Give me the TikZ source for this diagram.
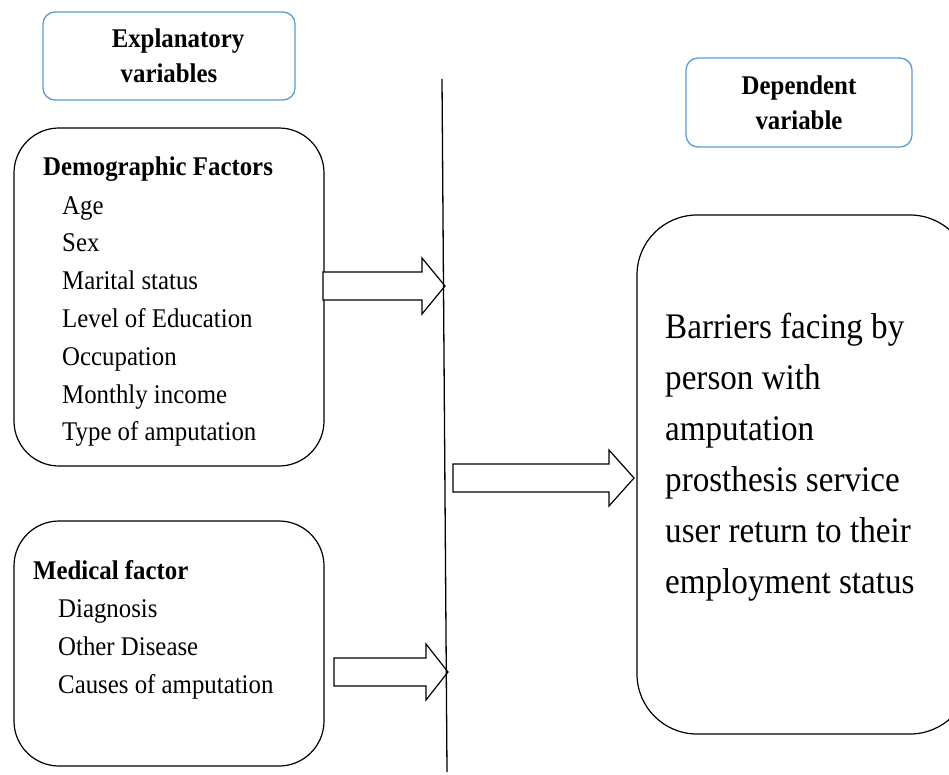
\documentclass[tikz,border=0pt]{standalone}
\usepackage{fontspec}
\setmainfont{Liberation Serif}[FakeStretch=0.92]
\usetikzlibrary{positioning}
\definecolor{headblue}{HTML}{5B9BD5}
\tikzset{
  headbox/.style={rounded corners=12pt, draw=headblue, line width=1.3pt, align=center, inner sep=0pt, font=\bfseries\fontsize{27}{35}\selectfont},
  factorbox/.style={rounded corners=45pt, draw=black, line width=1.2pt, inner sep=0pt},
  itemtext/.style={anchor=base west, inner sep=0pt, font=\fontsize{27}{38}\selectfont},
  bigtext/.style={anchor=base west, inner sep=0pt, font=\fontsize{36}{51}\selectfont},
  blockarrow/.style={draw=black, line width=1.2pt, fill=white, line join=miter}
}

\begin{document}
\begin{tikzpicture}[x=1pt, y=-1pt]
  \clip (0,0) rectangle (949,774);

  % headings
  \node[headbox, minimum width=252pt, minimum height=88pt] (explan) at (169,56) {\hspace*{18pt}Explanatory\\variables};
  \node[headbox, minimum width=226pt, minimum height=89pt] (depend) at (799,102.5) {Dependent\\variable};

  % explanatory factors
  \node[factorbox, minimum width=310pt, minimum height=338pt] (demo) at (169,297) {};
  \node[itemtext] (demotitle) at (43,175) {\bfseries Demographic Factors};
  \foreach \t [count=\i from 0] in {Age, Sex, Marital status, Level of Education, Occupation, Monthly income, Type of amputation}
    \node[itemtext] (demo-\i) at (62,214+\i*37.8) {\t};

  \node[factorbox, minimum width=310pt, minimum height=245pt] (medic) at (169,643.5) {};
  \node[itemtext] (medictitle) at (33,579) {\bfseries Medical factor};
  \foreach \t [count=\i from 0] in {Diagnosis, Other Disease, Causes of amputation}
    \node[itemtext] (medic-\i) at (58,617+\i*38) {\t};

  % outcome
  \node[factorbox, rounded corners=60pt, minimum width=333pt, minimum height=519pt] (barrier) at (803.5,474.5) {};
  \foreach \t [count=\i from 0] in {Barriers facing by, person with, amputation, prosthesis service, user return to their, employment status}
    \node[bigtext] (barrier-\i) at (665,338+\i*51) {\t};

  % block arrows
  \foreach \tx/\hx/\px/\cy in {323/422/445/286, 453/609/634/478, 334/426/448/672}
    \draw[blockarrow] (\tx,\cy-14) -- (\hx,\cy-14) -- (\hx,\cy-28) -- (\px,\cy)
      -- (\hx,\cy+28) -- (\hx,\cy+14) -- (\tx,\cy+14) -- cycle;

  % divider
  \coordinate (divtop) at (442,79);
  \coordinate (divbot) at (447,772);
  \draw[line width=1.3pt] (divtop) -- (divbot);
\end{tikzpicture}
\end{document}
